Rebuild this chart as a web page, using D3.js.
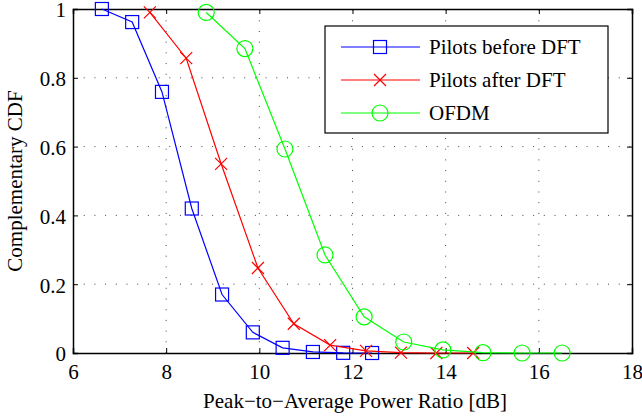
<!DOCTYPE html>
<html><head><meta charset="utf-8">
<script src="https://cdn.jsdelivr.net/npm/d3@7"></script>
<style>body{margin:0;background:#fff}svg{display:block}text{font-family:"Liberation Serif","Times New Roman",serif}</style>
</head><body>
<script>
const seriesNames = ["Pilots before DFT", "Pilots after DFT", "OFDM"];
const seriesColors = ["#0000ff", "#ff0000", "#00ff00"];
const beforeX = [6.62, 7.27, 7.91, 8.55, 9.2, 9.86, 10.5, 11.15, 11.8, 12.42];
const beforeY = [1.0, 0.962, 0.759, 0.42, 0.17, 0.06, 0.015, 0.003, 0.0005, 0.0];
const afterX = [7.65, 8.43, 9.18, 9.97, 10.74, 11.52, 12.29, 13.04, 13.8, 14.59];
const afterY = [0.99, 0.857, 0.55, 0.247, 0.085, 0.023, 0.006, 0.001, 0.0, 0.0];
const ofdmX = [8.86, 9.69, 10.55, 11.41, 12.25, 13.1, 13.94, 14.8, 15.64, 16.5];
const ofdmY = [0.99, 0.885, 0.593, 0.285, 0.105, 0.032, 0.009, 0.001, 0.0, 0.0];
const xTicks = [6, 8, 10, 12, 14, 16, 18];
const yTicks = [0, 0.2, 0.4, 0.6, 0.8, 1];
const xLabel = "Peak\u2212to\u2212Average Power Ratio [dB]";
const yLabel = "Complementary CDF";

const W = 642, H = 417;
const m = {left: 73, right: 10, top: 9, bottom: 64};
const FS = 21;
const svg = d3.select("body").append("svg").attr("width", W).attr("height", H);
const x = d3.scaleLinear().domain([6, 18]).range([m.left, W - m.right]);
const y = d3.scaleLinear().domain([0, 1]).range([H - m.bottom, m.top]);
const fmt = d => String(d);

// grid
const g = svg.append("g");
g.selectAll(".gx").data(xTicks.slice(1, -1)).enter().append("line")
  .attr("x1", d => x(d)).attr("x2", d => x(d)).attr("y1", y(0)).attr("y2", y(1))
  .attr("stroke", "#444").attr("stroke-width", 1).attr("stroke-dasharray", "1,9.7");
g.selectAll(".gy").data(yTicks.slice(1, -1)).enter().append("line")
  .attr("y1", d => y(d)).attr("y2", d => y(d)).attr("x1", x(6)).attr("x2", x(18))
  .attr("stroke", "#444").attr("stroke-width", 1).attr("stroke-dasharray", "1,9.7");

// axes
const axB = d3.axisBottom(x).tickValues(xTicks).tickSize(-5).tickPadding(11).tickFormat(fmt);
const axL = d3.axisLeft(y).tickValues(yTicks).tickSize(-5).tickPadding(7).tickFormat(fmt);
const axT = d3.axisTop(x).tickValues(xTicks).tickSize(-5).tickFormat("");
const axR = d3.axisRight(y).tickValues(yTicks).tickSize(-5).tickFormat("");
function style(sel){ sel.select(".domain").attr("stroke","#000").attr("stroke-width",1.5);
  sel.selectAll(".tick line").attr("stroke","#000").attr("stroke-width",1);
  sel.selectAll("text").attr("font-size",FS).attr("fill","#000").attr("font-family",'"Liberation Serif",serif'); }
svg.append("g").attr("transform", `translate(0,${y(0)})`).call(axB).call(style);
svg.append("g").attr("transform", `translate(${x(6)},0)`).call(axL).call(style)
  .selectAll(".tick text").attr("dy", "0.38em");
svg.append("g").attr("transform", `translate(0,${y(1)})`).call(axT).call(style);
svg.append("g").attr("transform", `translate(${x(18)},0)`).call(axR).call(style);

// series
const data = [
  beforeX.map((v, i) => [v, beforeY[i]]),
  afterX.map((v, i) => [v, afterY[i]]),
  ofdmX.map((v, i) => [v, ofdmY[i]])
];
const line = d3.line().x(d => x(d[0])).y(d => y(d[1]));
function marker(sel, k, color) {
  if (k === 0) sel.append("rect").attr("x", -6.5).attr("y", -6.5).attr("width", 13).attr("height", 13)
      .attr("fill", "none").attr("stroke", color).attr("stroke-width", 1.2);
  else if (k === 1) sel.append("path").attr("d", "M-6,-6L6,6M-6,6L6,-6").attr("stroke", color).attr("stroke-width", 1.2);
  else sel.append("circle").attr("r", 8).attr("fill", "none").attr("stroke", color).attr("stroke-width", 1.2);
}
data.forEach((d, k) => {
  svg.append("path").datum(d).attr("d", line).attr("fill", "none").attr("stroke", seriesColors[k]).attr("stroke-width", 1.2);
  d.forEach(p => {
    const mg = svg.append("g").attr("transform", `translate(${x(p[0])},${y(p[1])})`);
    marker(mg, k, seriesColors[k]);
  });
});

// legend
const lg = svg.append("g");
lg.append("rect").attr("x", 325).attr("y", 26).attr("width", 283).attr("height", 107)
  .attr("fill", "#fff").attr("stroke", "#000").attr("stroke-width", 1.2);
seriesNames.forEach((n, k) => {
  const yy = 47 + k * 33;
  lg.append("line").attr("x1", 341).attr("x2", 420).attr("y1", yy).attr("y2", yy).attr("stroke", seriesColors[k]).attr("stroke-width", 1.2);
  marker(lg.append("g").attr("transform", `translate(380,${yy})`), k, seriesColors[k]);
  lg.append("text").attr("x", 429).attr("y", yy + 7).attr("font-size", FS).text(n);
});

// labels
svg.append("text").attr("x", 355).attr("y", 408).attr("text-anchor", "middle")
  .attr("font-size", FS).text(xLabel);
svg.append("text").attr("transform", `translate(22,${(y(0) + y(1)) / 2}) rotate(-90)`)
  .attr("text-anchor", "middle").attr("font-size", FS).text(yLabel);
</script>
</body></html>
